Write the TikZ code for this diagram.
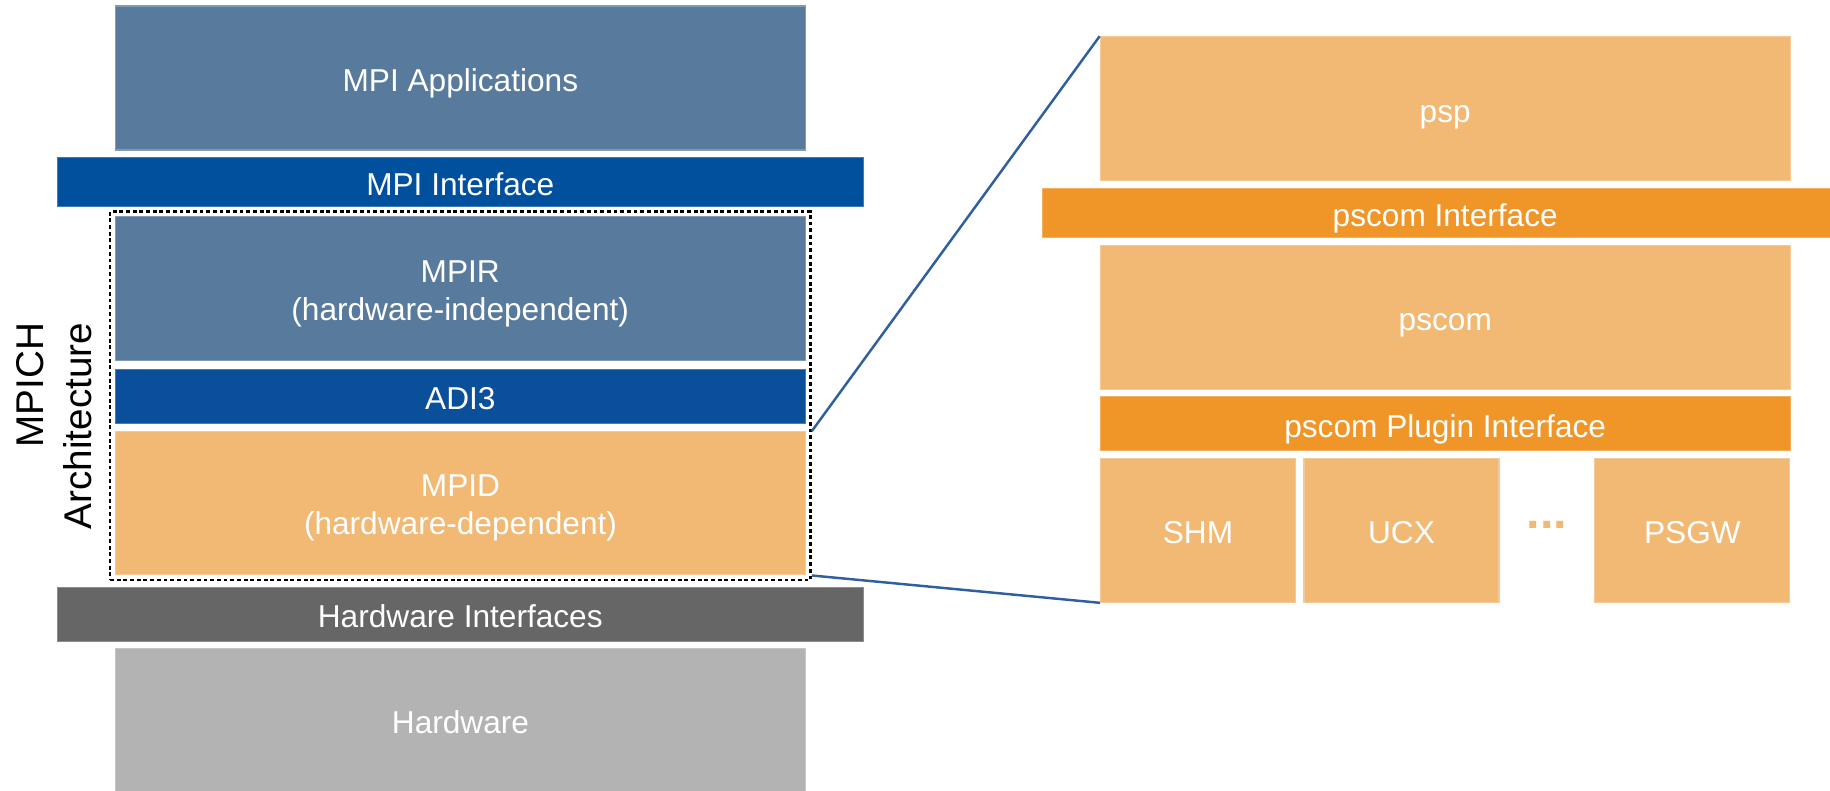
\documentclass[tikz,border=0pt]{standalone}
\usepackage{fontspec}
\setmainfont{Liberation Sans}
\usetikzlibrary{fit}

\definecolor{pizarra}{RGB}{88,122,156}
\definecolor{azulmpi}{RGB}{0,80,158}
\definecolor{azuladi}{RGB}{10,79,154}
\definecolor{naranjaclaro}{RGB}{241,185,116}
\definecolor{naranja}{RGB}{240,150,40}
\definecolor{grisoscuro}{RGB}{102,102,102}
\definecolor{grisclaro}{RGB}{179,179,179}
\definecolor{enlaceazul}{RGB}{47,95,158}

\begin{document}
\begin{tikzpicture}[
        capa/.style={rectangle, fill=#1, draw=#1!75!white, line width=0.3pt,
                     text=white, align=center, inner sep=0pt,
                     minimum width=6.90cm, minimum height=1.44cm,
                     font=\fontsize{9}{10.8}\selectfont,
                     execute at begin node={\rule{0pt}{1.065em}},
                     execute at end node={\rule[-0.212em]{0pt}{0pt}}},
        doble/.style={text height=19.9pt, text depth=1.9pt},
        interfaz/.style={capa=#1, minimum width=8.06cm},
        modulo/.style={capa=naranjaclaro, minimum width=1.95cm},
        marco/.style={draw=black, line width=0.7pt, dash pattern=on 1.1pt off 0.8pt,
                      inner sep=1.3pt},
        enlace/.style={draw=enlaceazul, line width=0.7pt}
    ]
    \useasboundingbox (0,0) rectangle (18.30,7.91);
    \clip (0,0) rectangle (18.30,7.91);

        % Pila de MPICH
        \node[capa=pizarra] (apps) at (4.604,7.13) {MPI Applications};
        \node[interfaz=azulmpi, minimum height=0.494cm] (mpiif) at (4.603,6.09) {MPI Interface};
        \node[capa=pizarra, doble] (mpir) at (4.602,5.023) {MPIR\\(hardware-independent)};
        \node[capa=azuladi, minimum height=0.54cm] (adi) at (4.604,3.947) {ADI3};
        \node[capa=naranjaclaro, doble, minimum height=1.433cm] (mpid) at (4.605,2.877) {MPID\\(hardware-dependent)};
        \node[interfaz=grisoscuro, minimum height=0.537cm] (hwif) at (4.603,1.768) {Hardware Interfaces};
        \node[capa=grisclaro] (hw) at (4.605,0.707) {Hardware};

        % Marco punteado y etiqueta girada
        \node[marco, fit=(mpir)(mpid)] (arq) {};
        \node[rotate=90, align=right, font=\fontsize{11}{13.6}\selectfont] (etiqueta) at (0.54,3.65) {MPICH\\Architecture};

        % Detalle de ParaStation MPI
        \node[capa=naranjaclaro] (psp) at (14.452,6.823) {psp};
        \node[interfaz=naranja, minimum height=0.494cm] (psif) at (14.452,5.78) {pscom Interface};
        \node[capa=naranjaclaro] (pscom) at (14.453,4.738) {pscom};
        \node[capa=naranja, minimum height=0.54cm] (plugif) at (14.452,3.673) {pscom Plugin Interface};
        \node[modulo] (shm) at (11.98,2.607) {SHM};
        \node[modulo] (ucx) at (14.015,2.607) {UCX};
        \node[text=naranjaclaro, font=\bfseries\fontsize{13.8}{16}\selectfont] (puntos) at (15.47,2.665) {...};
        \node[modulo] (psgw) at (16.924,2.607) {PSGW};

        % Lineas de ampliacion
        \draw[enlace] (arq.east |- mpid.north) -- (psp.north west);
        \draw[enlace] (arq.east |- mpid.south) -- (shm.south west);

    \end{tikzpicture}
\end{document}
